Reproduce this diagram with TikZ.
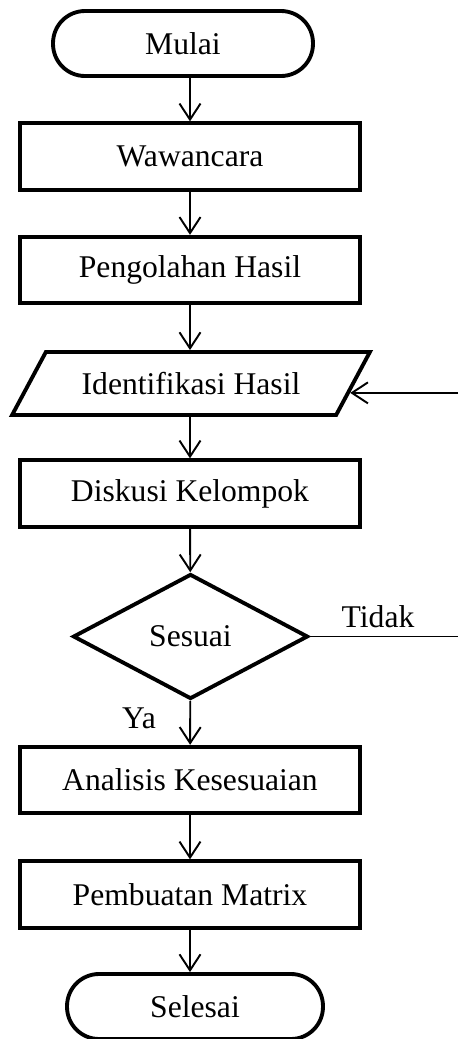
\documentclass[tikz,border=0pt]{standalone}
\usepackage{fontspec}
\setmainfont{Liberation Serif}
\usetikzlibrary{shapes.geometric,arrows.meta,calc}

\tikzset{
    process/.style={draw, line width=2.2pt, rectangle, minimum width=6.8cm, minimum height=1.33cm, inner sep=0pt},
    terminal/.style={draw, line width=2.2pt, rectangle, rounded corners=0.64cm, minimum height=1.3cm, inner sep=0pt},
    inout/.style={draw, line width=2.2pt, trapezium, trapezium left angle=41.6, trapezium right angle=138.4, trapezium stretches=true, minimum width=7.16cm, minimum height=1.26cm, inner sep=0pt},
    decision/.style={draw, line width=2.2pt, diamond, aspect=1.88, minimum width=4.7cm, minimum height=2.5cm, inner sep=0pt},
    flow/.style={line width=1.1pt, -{Straight Barb[length=3.2mm,width=4.2mm,line width=1.1pt]}},
    line/.style={line width=1.1pt}
}

\begin{document}
\begin{tikzpicture}[x=0.02cm, y=-0.02cm, font=\fontsize{18}{22}\selectfont]
    \useasboundingbox (0,0) rectangle (458,1039);

    % Start and end
    \node[terminal, minimum width=5.2cm] (mulai) at (183,43.5) {Mulai};
    \node[terminal, minimum width=5.12cm] (selesai) at (195,1006.5) {Selesai};

    % Process steps
    \node[process] (wawancara) at (190,156.5) {Wawancara};
    \node[process] (pengolahan) at (190,270) {Pengolahan Hasil};
    \node[inout] (identifikasi) at (191,383.5) {Identifikasi Hasil};
    \node[process] (diskusi) at (190,493.5) {Diskusi Kelompok};
    \node[decision] (sesuai) at (190.5,636.5) {Sesuai};
    \node[process] (analisis) at (190,780) {Analisis Kesesuaian};
    \node[process] (pembuatan) at (190,894.5) {Pembuatan Matrix};

    % Main flow
    \draw[flow] (mulai.south -| wawancara.north) -- (wawancara.north);
    \draw[flow] (wawancara) -- (pengolahan);
    \draw[flow] (pengolahan.south) -- (pengolahan.south |- identifikasi.north);
    \draw[flow] (identifikasi.south -| diskusi.north) -- (diskusi.north);
    \draw[flow] (diskusi) -- (sesuai);
    \draw[flow] (sesuai) -- node[pos=0.4, left=0.55cm] {Ya} (analisis);
    \draw[flow] (analisis) -- (pembuatan);
    \draw[flow] (pembuatan.south) -- (pembuatan.south |- selesai.north);

    % Loop back (Tidak)
    \coordinate (tidakend) at (sesuai.east -| 458,0);
    \draw[line] (sesuai.east) -- node[pos=0.46, above=1pt] {Tidak} (tidakend);
    \coordinate (rtip) at ($(identifikasi.top right corner)!0.64!(identifikasi.bottom right corner)$);
    \coordinate (loopin) at (rtip -| tidakend);
    \draw[flow] (loopin) -- (rtip);
\end{tikzpicture}
\end{document}
